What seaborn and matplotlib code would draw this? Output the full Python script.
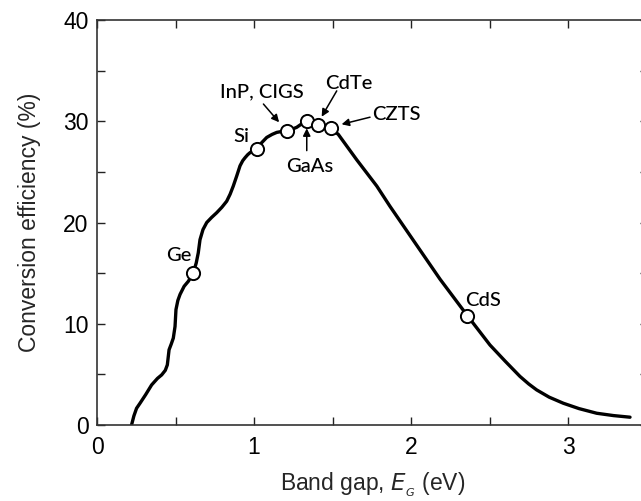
import matplotlib
matplotlib.use("Agg")
import matplotlib.pyplot as plt
from matplotlib.ticker import MultipleLocator
import seaborn as sns
import pandas as pd

# ---- data ----
curve_x = [0.22, 0.235, 0.252, 0.274, 0.31, 0.348, 0.385, 0.412, 0.435, 0.448, 0.459, 0.473,
           0.486, 0.497, 0.503, 0.515, 0.529, 0.555, 0.582, 0.613, 0.632, 0.645, 0.656,
           0.675, 0.699, 0.73, 0.762, 0.795, 0.826, 0.848, 0.868, 0.89, 0.911, 0.928,
           0.943, 0.96, 0.975, 1.017, 1.05, 1.081, 1.115, 1.145, 1.18, 1.208, 1.24,
           1.272, 1.30, 1.336, 1.375, 1.41, 1.45, 1.49, 1.537, 1.654, 1.782, 1.866,
           2.185, 2.359, 2.503, 2.60, 2.694, 2.75, 2.80, 2.88, 2.97, 3.07, 3.183,
           3.29, 3.395]
curve_y = [0.0, 0.9, 1.65, 2.15, 3.0, 3.96, 4.6, 4.95, 5.4, 5.94, 7.43, 8.0,
           8.58, 9.73, 11.4, 12.3, 12.9, 13.7, 14.2, 15.0, 16.0, 17.0, 18.3,
           19.3, 20.0, 20.5, 20.96, 21.5, 22.1, 22.8, 23.6, 24.6, 25.6, 26.1,
           26.4, 26.7, 26.9, 27.3, 27.9, 28.4, 28.7, 28.9, 29.0, 29.0, 29.2,
           29.4, 29.7, 30.0, 29.8, 29.6, 29.45, 29.3, 28.7, 26.2, 23.6, 21.6,
           14.4, 10.8, 7.9, 6.3, 4.8, 4.05, 3.47, 2.75, 2.15, 1.62, 1.16,
           0.93, 0.77]

materials = ["Ge", "Si", "InP, CIGS", "GaAs", "CdTe", "CZTS", "CdS"]
mat_x = [0.613, 1.017, 1.208, 1.336, 1.41, 1.49, 2.359]
mat_y = [15.0, 27.3, 29.0, 30.0, 29.6, 29.3, 10.8]

x_ticks = [0, 1, 2, 3]
y_ticks = [0, 10, 20, 30, 40]

curve = pd.DataFrame({"Eg": curve_x, "eff": curve_y})
pts = pd.DataFrame({"Eg": mat_x, "eff": mat_y, "name": materials})

sns.set_style("ticks")
plt.rcParams["font.family"] = ["Liberation Sans", "DejaVu Sans"]

fig = plt.figure(figsize=(6.41, 5.01), dpi=100)
W, H = 641, 501
ax = fig.add_axes([97 / W, 76 / H, 551 / W, 405 / H])

sns.lineplot(data=curve, x="Eg", y="eff", sort=False, color="black",
             linewidth=2.4, ax=ax, zorder=2)
line = ax.lines[-1]
line.set_solid_joinstyle("round")
line.set_solid_capstyle("round")
sns.scatterplot(data=pts, x="Eg", y="eff", s=90, facecolor="white",
                edgecolor="black", linewidth=1.4, ax=ax, zorder=3)

ax.set_xlim(0, 551 / 157)
ax.set_ylim(0, 40)
ax.set_xticks(x_ticks)
ax.set_yticks(y_ticks)
ax.xaxis.set_minor_locator(MultipleLocator(0.5))
ax.yaxis.set_minor_locator(MultipleLocator(5))
ax.tick_params(which="both", direction="in", top=True, right=True,
               labelsize=16.5, colors="#222222", labelcolor="black")
ax.tick_params(which="major", length=6, width=1.0)
ax.tick_params(axis="x", which="major", pad=8)
ax.tick_params(axis="y", which="major", pad=6)
ax.tick_params(which="minor", length=6, width=1.0)
for sp in ax.spines.values():
    sp.set_linewidth(1.2)
    sp.set_color("#333333")

ax.set_xlabel(r"Band gap, $E_{_G}$ (eV)", fontsize=16.5, labelpad=8)
ax.set_ylabel("Conversion efficiency (%)", fontsize=16.5, labelpad=16)

lab = dict(fontsize=14.5, family=["Lato", "DejaVu Sans"], color="black",
           fontweight="medium")
arr = dict(arrowstyle="-|>", color="black", lw=1.1, mutation_scale=11,
           shrinkA=0, shrinkB=0)

ax.text(0.518, 16.7, materials[0], ha="center", va="center", **lab)
ax.text(0.92, 28.5, materials[1], ha="center", va="center", **lab)
ax.text(2.344, 12.3, materials[6], ha="left", va="center", **lab)

ax.text(1.049, 32.9, materials[2], ha="center", va="center", **lab)
ax.annotate("", xy=(1.16, 29.9), xytext=(1.06, 31.7), arrowprops=arr)
ax.text(1.357, 25.5, materials[3], ha="center", va="center", **lab)
ax.annotate("", xy=(1.336, 29.3), xytext=(1.336, 27.1), arrowprops=arr)
ax.text(1.605, 33.7, materials[4], ha="center", va="center", **lab)
ax.annotate("", xy=(1.431, 30.45), xytext=(1.527, 33.0), arrowprops=arr)
ax.text(1.75, 30.7, materials[5], ha="left", va="center", **lab)
ax.annotate("", xy=(1.558, 29.7), xytext=(1.739, 30.4), arrowprops=arr)

fig.savefig("out.png", dpi=100)
